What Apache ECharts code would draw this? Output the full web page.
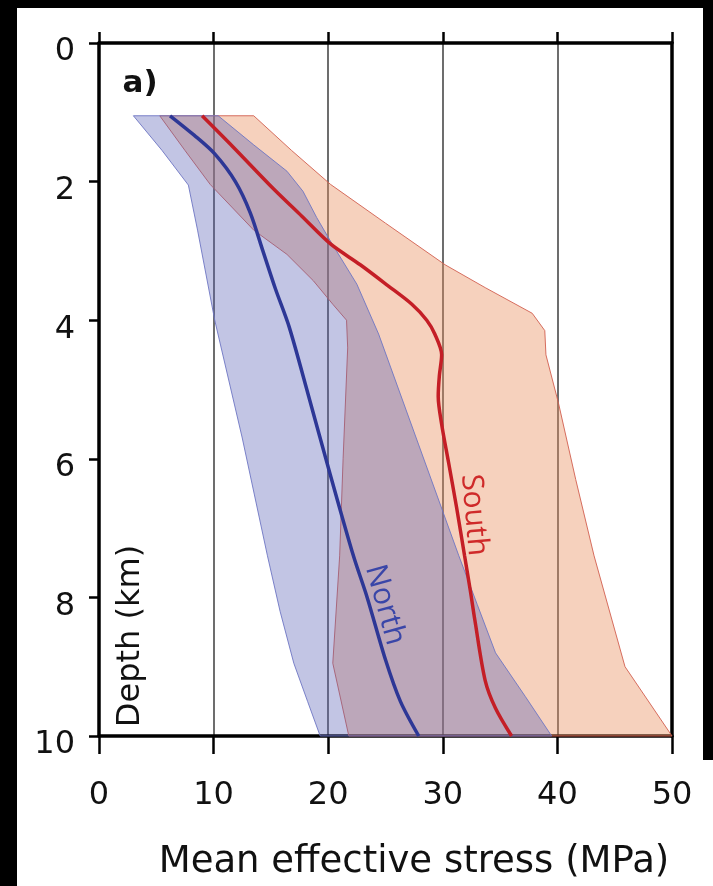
<!DOCTYPE html>
<html><head><meta charset="utf-8">
<script src="https://cdn.jsdelivr.net/npm/echarts@6/dist/echarts.min.js"></script>
<style>html,body{margin:0;padding:0;background:#000}#c{width:713px;height:886px}</style>
</head><body><div id="c"></div>
<script>
// ---- data (x = mean effective stress MPa, y = depth km) ----
const xTicks = [0, 10, 20, 30, 40, 50];
const yTicks = [0, 2, 4, 6, 8, 10];

const northLower = [[3.0,1.05],[5.5,1.55],[7.8,2.05],[8.6,2.7],[10.1,4.0],[12.5,5.7],[14.7,7.4],[15.8,8.2],[17.0,8.95],[18.2,9.5],[19.3,10]];
const northUpper = [[10.4,1.05],[13.5,1.47],[16.4,1.85],[17.8,2.14],[19.0,2.52],[20.2,2.86],[22.5,3.48],[24.4,4.2],[27.9,5.8],[31.4,7.4],[33.0,8.1],[34.6,8.8],[37.2,9.43],[39.5,10]];
const northMean  = [[6.2,1.05],[8.3,1.33],[10.1,1.6],[11.9,2.0],[13.2,2.45],[14.3,3.0],[15.4,3.55],[16.6,4.1],[18.3,5.1],[20.2,6.24],[22.2,7.4],[23.4,8.0],[25.0,8.9],[26.3,9.5],[27.9,10]];

const southLower = [[5.3,1.05],[7.5,1.55],[9.7,2.04],[13.5,2.7],[16.4,3.05],[18.7,3.43],[20.4,3.77],[21.6,4.0],[21.7,4.4],[21.3,6.0],[21.0,7.4],[20.4,8.95],[21.8,10]];
const southUpper = [[13.5,1.05],[16.8,1.55],[20.2,2.04],[25.0,2.6],[30.2,3.2],[33.7,3.53],[37.8,3.9],[38.9,4.15],[39.0,4.5],[40.1,5.2],[41.6,6.3],[43.2,7.4],[45.9,9.0],[50,10]];
const southMean  = [[9.0,1.05],[11.7,1.5],[15.2,2.1],[17.7,2.5],[20.2,2.9],[22.8,3.2],[25.2,3.5],[27.3,3.77],[28.6,4.0],[29.3,4.2],[29.9,4.5],[29.7,4.8],[29.6,5.1],[29.9,5.5],[30.5,6.05],[31.2,6.7],[31.9,7.4],[32.4,7.9],[32.8,8.33],[33.7,9.2],[34.6,9.6],[36.0,10]];

const seriesNames = ['North', 'South'];

// ---- chart ----
const chart = echarts.init(document.getElementById('c'), null, {renderer: 'canvas'});

function band(lower, upper, fill, stroke) {
  return function (params, api) {
    const pts = lower.map(p => api.coord(p)).concat(upper.slice().reverse().map(p => api.coord(p)));
    return {type: 'polygon', shape: {points: pts}, style: {fill: fill, stroke: stroke, lineWidth: 1}};
  };
}

const FONT = "'DejaVu Sans', sans-serif";
const axisBase = {
  type: 'value', min: xTicks[0], max: xTicks[xTicks.length - 1], interval: xTicks[1] - xTicks[0]
};
const yBase = {
  type: 'value', inverse: true, min: yTicks[0], max: yTicks[yTicks.length - 1], interval: yTicks[1] - yTicks[0]
};

chart.setOption({
  backgroundColor: '#ffffff',
  animation: false,
  grid: {left: 99, right: 41, top: 43, bottom: 148},
  xAxis: [
    Object.assign({}, axisBase, {
      position: 'bottom',
      name: 'Mean effective stress (MPa)',
      nameLocation: 'middle',
      nameGap: 108,
      nameTextStyle: {fontFamily: FONT, fontSize: 37, color: '#111', padding: [0, 0, 0, 57]},
      axisLine: {show: true, onZero: false, lineStyle: {color: '#000', width: 3.5}},
      axisTick: {show: true, inside: false, length: 18, lineStyle: {color: '#000', width: 2.5}},
      axisLabel: {fontFamily: FONT, fontSize: 32, color: '#111', margin: 44},
      splitLine: {show: true, lineStyle: {color: '#5e5e5e', width: 1.8}}
    }),
    Object.assign({}, axisBase, {
      position: 'top',
      axisLine: {show: true, onZero: false, lineStyle: {color: '#000', width: 3.5}},
      axisTick: {show: true, inside: false, length: 11, lineStyle: {color: '#000', width: 2.5}},
      axisLabel: {show: false},
      splitLine: {show: false}
    })
  ],
  yAxis: [
    Object.assign({}, yBase, {
      position: 'left',
      axisLine: {show: true, onZero: false, lineStyle: {color: '#000', width: 3.5}},
      axisTick: {show: true, inside: false, length: 10, lineStyle: {color: '#000', width: 2.5}},
      axisLabel: {fontFamily: FONT, fontSize: 32, color: '#111', margin: 24, verticalAlign: 'top', lineHeight: 18},
      splitLine: {show: false}
    }),
    Object.assign({}, yBase, {
      position: 'right',
      axisLine: {show: true, onZero: false, lineStyle: {color: '#000', width: 3.5}},
      axisTick: {show: false},
      axisLabel: {show: false},
      splitLine: {show: false}
    })
  ],
  series: [
    {
      type: 'custom', name: seriesNames[1] + ' range', xAxisIndex: 0, yAxisIndex: 0,
      renderItem: band(southLower, southUpper, 'rgba(232,140,90,0.40)', 'rgba(210,95,80,0.9)'),
      data: [[25, 5]], z: 2, silent: true
    },
    {
      type: 'custom', name: seriesNames[0] + ' range', xAxisIndex: 0, yAxisIndex: 0,
      renderItem: band(northLower, northUpper, 'rgba(85,95,180,0.36)', 'rgba(110,118,195,0.9)'),
      data: [[20, 5]], z: 3, silent: true
    },
    {
      type: 'line', name: seriesNames[0], data: northMean, xAxisIndex: 0, yAxisIndex: 0,
      symbol: 'none', smooth: 0.3, lineStyle: {color: '#2d3796', width: 3.5}, z: 5
    },
    {
      type: 'line', name: seriesNames[1], data: southMean, xAxisIndex: 0, yAxisIndex: 0,
      symbol: 'none', smooth: 0.3, lineStyle: {color: '#c41e26', width: 3.5}, z: 5
    }
  ],
  graphic: [
    {type: 'rect', z: 100, shape: {x: 0, y: 0, width: 17, height: 886}, style: {fill: '#000'}},
    {type: 'rect', z: 100, shape: {x: 0, y: 0, width: 713, height: 8}, style: {fill: '#000'}},
    {type: 'rect', z: 100, shape: {x: 703, y: 0, width: 10, height: 760}, style: {fill: '#000'}},
    {type: 'text', z: 100, x: 140, y: 84, style: {text: 'a)', font: "bold 31px 'DejaVu Sans', sans-serif", fill: '#111', align: 'center', verticalAlign: 'middle'}},
    {type: 'text', z: 100, x: 131, y: 636, rotation: Math.PI / 2, style: {text: 'Depth (km)', font: "32px 'DejaVu Sans', sans-serif", fill: '#111', align: 'center', verticalAlign: 'middle'}},
    {type: 'text', z: 100, x: 385, y: 605, rotation: -74.4 * Math.PI / 180, style: {text: seriesNames[0], font: "30px 'Open Sans', sans-serif", fill: '#3a46a8', align: 'center', verticalAlign: 'middle'}},
    {type: 'text', z: 100, x: 474, y: 515, rotation: -85 * Math.PI / 180, style: {text: seriesNames[1], font: "30px 'Open Sans', sans-serif", fill: '#cf2a2a', align: 'center', verticalAlign: 'middle'}}
  ]
});
</script></body></html>
